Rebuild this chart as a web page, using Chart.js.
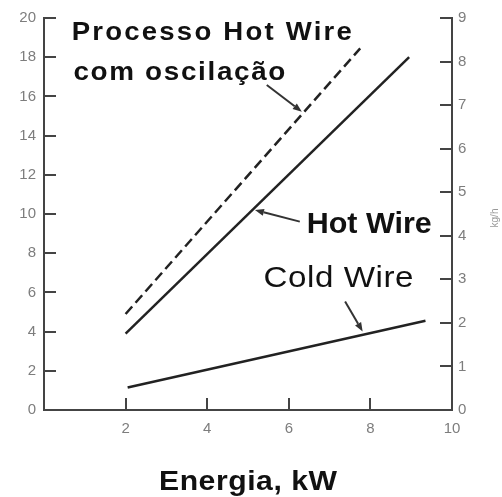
<!DOCTYPE html>
<html>
<head>
<meta charset="utf-8">
<script src="https://cdn.jsdelivr.net/npm/chart.js@4/dist/chart.umd.min.js"></script>
<style>
  html, body { margin: 0; padding: 0; background: #fff; }
  #wrap { width: 502px; height: 497px; }
</style>
</head>
<body>
<div id="wrap"><canvas id="c" width="502" height="497"></canvas></div>
<script>
// Deposition rate vs. power for the three processes (left axis, arbitrary units)
const oscillationPower = [2.0, 7.75];
const oscillationRate  = [4.9, 18.45];
const hotWirePower     = [2.0, 8.95];
const hotWireRate      = [3.9, 18.0];
const coldWirePower    = [2.05, 9.35];
const coldWireRate     = [1.15, 4.55];

// Axis ranges and tick steps
const powerTicks = [0, 10, 2];   // min, max, step (kW)
const leftTicks  = [0, 20, 2];
const rightTicks = [0, 9, 1];    // kg/h

const toPoints = (xs, ys) => xs.map((x, i) => ({ x, y: ys[i] }));

// Callout texts and leader arrows, placed in data coordinates
const callouts = [
  { text: 'Processo Hot Wire', x: 0.68, y: 18.88, width: 280, spacing: 2,   font: 'bold 25px "Liberation Sans", Arial, sans-serif' },
  { text: 'com oscilação',     x: 0.72, y: 16.84, width: 212, spacing: 1.5, font: 'bold 25px "Liberation Sans", Arial, sans-serif' },
  { text: 'Hot Wire',          x: 6.44, y: 9.01,  width: 125, spacing: 0,   font: 'bold 30px "Liberation Sans", Arial, sans-serif' },
  { text: 'Cold Wire',         x: 5.38, y: 6.29,  width: 150, spacing: 0.5, font: '30px "Liberation Sans", Arial, sans-serif' }
];
const arrows = [
  { from: [5.46, 16.58], to: [6.32, 15.22] },
  { from: [6.27, 9.61],  to: [5.17, 10.2] },
  { from: [7.38, 5.53],  to: [7.81, 4.0] }
];

// Draw text starting at (x, y) stretched horizontally to the given width
function fitText(ctx, text, x, y, width, spacing) {
  ctx.letterSpacing = spacing + 'px';
  const natural = ctx.measureText(text).width - spacing;
  ctx.save();
  ctx.translate(x, y);
  ctx.scale(width / natural, 1);
  ctx.fillText(text, 0, 0);
  ctx.restore();
  ctx.letterSpacing = '0px';
}

const decor = {
  id: 'decor',
  afterDraw(chart) {
    const { ctx, chartArea: a, scales: { x, y, y2 } } = chart;
    ctx.save();
    // inward tick marks
    ctx.strokeStyle = '#444';
    ctx.lineWidth = 2;
    const tl = 12;
    ctx.beginPath();
    y.ticks.forEach(t => { const p = Math.round(y.getPixelForValue(t.value)); ctx.moveTo(a.left, p); ctx.lineTo(a.left + tl, p); });
    y2.ticks.forEach(t => { const p = Math.round(y2.getPixelForValue(t.value)); ctx.moveTo(a.right, p); ctx.lineTo(a.right - tl, p); });
    x.ticks.forEach(t => {
      if (t.value <= powerTicks[0] || t.value >= powerTicks[1]) return;
      const p = Math.round(x.getPixelForValue(t.value)); ctx.moveTo(p, a.bottom); ctx.lineTo(p, a.bottom - tl);
    });
    ctx.stroke();

    // leader arrows
    ctx.strokeStyle = '#333';
    ctx.fillStyle = '#333';
    ctx.lineWidth = 2;
    arrows.forEach(ar => {
      const fx = x.getPixelForValue(ar.from[0]), fy = y.getPixelForValue(ar.from[1]);
      const tx = x.getPixelForValue(ar.to[0]),   ty = y.getPixelForValue(ar.to[1]);
      const ang = Math.atan2(ty - fy, tx - fx);
      const hl = 9, hw = 3.5;
      const bx = tx - hl * Math.cos(ang), by = ty - hl * Math.sin(ang);
      ctx.beginPath(); ctx.moveTo(fx, fy); ctx.lineTo(bx, by); ctx.stroke();
      ctx.beginPath();
      ctx.moveTo(tx, ty);
      ctx.lineTo(bx + hw * Math.sin(ang), by - hw * Math.cos(ang));
      ctx.lineTo(bx - hw * Math.sin(ang), by + hw * Math.cos(ang));
      ctx.closePath(); ctx.fill();
    });

    // callout texts
    ctx.fillStyle = '#111';
    ctx.textAlign = 'left';
    ctx.textBaseline = 'alphabetic';
    callouts.forEach(c => {
      ctx.font = c.font;
      fitText(ctx, c.text, x.getPixelForValue(c.x), y.getPixelForValue(c.y), c.width, c.spacing);
    });

    // axis titles
    ctx.font = 'bold 28px "Liberation Sans", Arial, sans-serif';
    const tw = 178;
    fitText(ctx, 'Energia, kW', (a.left + a.right) / 2 - tw / 2, a.bottom + 80, tw, 0.5);

    ctx.translate(chart.width - 7, (a.top + a.bottom) / 2 + 4);
    ctx.rotate(-Math.PI / 2);
    ctx.font = '10px "Liberation Sans", Arial, sans-serif';
    ctx.fillStyle = '#999';
    ctx.textAlign = 'center';
    ctx.textBaseline = 'middle';
    ctx.fillText('kg/h', 0, 0);
    ctx.restore();
  }
};

const tickFont = { family: '"Liberation Sans", Arial, sans-serif', size: 15 };
const tickColor = '#7d7d7d';
const border = { display: true, color: '#444', width: 2 };
const grid = { display: true, drawOnChartArea: false, drawTicks: false };

new Chart(document.getElementById('c'), {
  type: 'line',
  data: {
    datasets: [
      { label: 'Processo Hot Wire com oscilação', data: toPoints(oscillationPower, oscillationRate),
        borderColor: '#222', borderWidth: 2.5, borderDash: [10, 5], pointRadius: 0, yAxisID: 'y' },
      { label: 'Hot Wire', data: toPoints(hotWirePower, hotWireRate),
        borderColor: '#222', borderWidth: 2.5, pointRadius: 0, yAxisID: 'y' },
      { label: 'Cold Wire', data: toPoints(coldWirePower, coldWireRate),
        borderColor: '#222', borderWidth: 2.5, pointRadius: 0, yAxisID: 'y' }
    ]
  },
  options: {
    responsive: false,
    animation: false,
    layout: { padding: { top: 18, left: 0, right: 0, bottom: 0 } },
    plugins: { legend: { display: false }, tooltip: { enabled: false } },
    scales: {
      x: {
        type: 'linear', position: 'bottom',
        min: powerTicks[0], max: powerTicks[1],
        ticks: { stepSize: powerTicks[2], padding: 10, font: tickFont, color: tickColor,
                 callback: v => (v === powerTicks[0] ? '' : v) },
        grid, border,
        afterFit: s => { s.height = 87; }
      },
      y: {
        position: 'left',
        min: leftTicks[0], max: leftTicks[1],
        ticks: { stepSize: leftTicks[2], padding: 8, font: tickFont, color: tickColor },
        grid, border,
        afterFit: s => { s.width = 44; }
      },
      y2: {
        position: 'right',
        min: rightTicks[0], max: rightTicks[1],
        ticks: { stepSize: rightTicks[2], padding: 6, font: tickFont, color: tickColor },
        grid, border,
        afterFit: s => { s.width = 50; }
      }
    }
  },
  plugins: [decor]
});
</script>
</body>
</html>
